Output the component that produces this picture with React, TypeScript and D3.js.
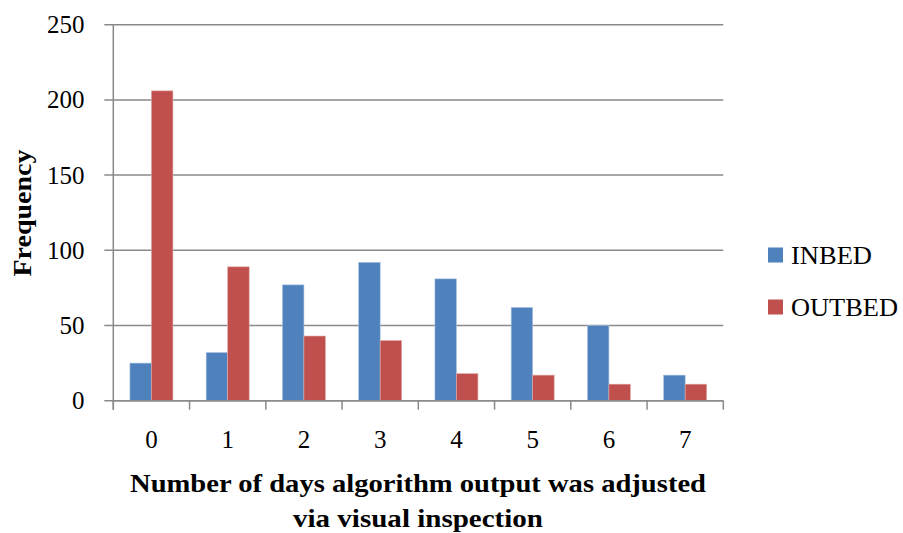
import React from "react";
import * as d3 from "d3";

// Days on which the algorithm output was adjusted (x categories)
const categories = ["0", "1", "2", "3", "4", "5", "6", "7"];
const seriesNames = ["INBED", "OUTBED"];
const inbedValues = [25, 32, 77, 92, 81, 62, 50, 17];
const outbedValues = [206, 89, 43, 40, 18, 17, 11, 11];
const yTicks = [0, 50, 100, 150, 200, 250];
const colors = ["#4F81BD", "#C0504D"];
const edgeColors = ["#a9c2e0", "#e0a9a7"];

const W = 903;
const H = 533;
const FONT = "'Palatino Linotype', 'Book Antiqua', Palatino, 'Liberation Serif', serif";
const GRID = "#8a8a8a";
const legendWidths = [81, 107];

export default function App() {
  const left = 113.3;
  const right = 723.3;
  const top = 24.7;
  const bottom = 400.7;

  const x = d3.scaleBand<string>().domain(categories).range([left, right]).padding(0);
  const bw = x.bandwidth();
  const gap = bw * 0.218;
  const x1 = d3.scaleBand<string>().domain(seriesNames).range([gap, bw - gap]).padding(0);
  const y = d3.scaleLinear().domain([0, 250]).range([bottom, top]);

  const values = [inbedValues, outbedValues];

  return (
    <svg
      width={W}
      height={H}
      style={{ position: "absolute", left: 0, top: 0, background: "#fff" }}
      fontFamily={FONT}
    >
      <rect width={W} height={H} fill="#fff" />
      {/* horizontal gridlines with left tick marks */}
      {yTicks.map((t) => (
        <g key={t}>
          <line x1={left - 9} x2={right} y1={y(t)} y2={y(t)} stroke={GRID} strokeWidth={1.5} />
          <text
            x={84.5}
            y={y(t)}
            textAnchor="end"
            dominantBaseline="central"
            fontSize={25}
            fill="#000"
          >
            {t}
          </text>
        </g>
      ))}
      {/* bars */}
      {categories.map((c, i) => (
        <g key={c}>
          {seriesNames.map((s, k) => {
            const v = values[k][i];
            return (
              <rect
                key={s}
                x={(x(c) as number) + (x1(s) as number)}
                y={y(v)}
                width={x1.bandwidth()}
                height={y(0) - y(v)}
                fill={colors[k]}
                stroke={edgeColors[k]}
                strokeWidth={0.6}
              />
            );
          })}
        </g>
      ))}
      {/* y axis */}
      <line x1={left} x2={left} y1={top} y2={bottom + 9} stroke={GRID} strokeWidth={1.5} />
      {/* x axis and category ticks */}
      <line x1={left} x2={right} y1={bottom} y2={bottom} stroke={GRID} strokeWidth={1.5} />
      {categories.concat(["end"]).map((c, i) => {
        const px = left + i * bw;
        return (
          <line key={c + i} x1={px} x2={px} y1={bottom} y2={bottom + 9} stroke={GRID} strokeWidth={1.5} />
        );
      })}
      {categories.map((c) => (
        <text
          key={c}
          x={(x(c) as number) + bw / 2}
          y={439.5}
          textAnchor="middle"
          dominantBaseline="central"
          fontSize={25}
        >
          {c}
        </text>
      ))}
      {/* axis titles */}
      <text
        x={418}
        y={492}
        textAnchor="middle"
        fontSize={26}
        fontWeight="bold"
        textLength={576}
        lengthAdjust="spacingAndGlyphs"
      >
        Number of days algorithm output was adjusted
      </text>
      <text
        x={418}
        y={527}
        textAnchor="middle"
        fontSize={26}
        fontWeight="bold"
        textLength={250}
        lengthAdjust="spacingAndGlyphs"
      >
        via visual inspection
      </text>
      <text
        transform="translate(31,213) rotate(-90)"
        textAnchor="middle"
        fontSize={26}
        fontWeight="bold"
        textLength={127}
        lengthAdjust="spacingAndGlyphs"
      >
        Frequency
      </text>
      {/* legend */}
      {seriesNames.map((s, k) => (
        <g key={s} transform={`translate(768, ${255 + k * 52})`}>
          <rect x={0} y={-7.5} width={15} height={15} fill={colors[k]} />
          <text
            x={23}
            y={0}
            dominantBaseline="central"
            fontSize={26}
            textLength={legendWidths[k]}
            lengthAdjust="spacingAndGlyphs"
          >
            {s}
          </text>
        </g>
      ))}
    </svg>
  );
}
